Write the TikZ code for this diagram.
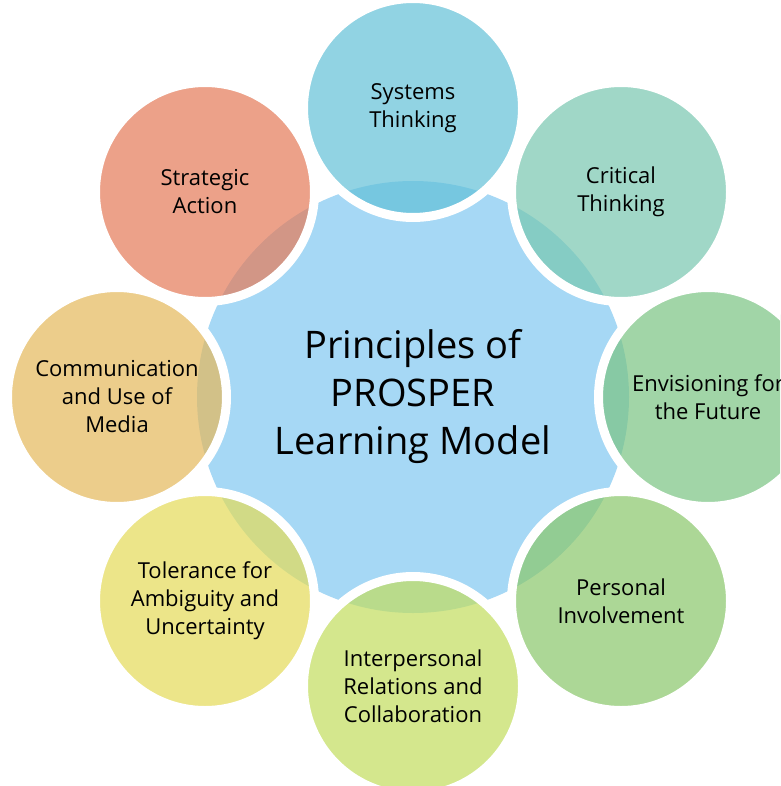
\documentclass[tikz,border=0pt]{standalone}
\usepackage{fontspec}
\setmainfont{Open Sans}
\usetikzlibrary{positioning}

\definecolor{hubblue}{RGB}{166,216,245}
\definecolor{sysblue}{RGB}{99,193,216}
\definecolor{critteal}{RGB}{120,199,176}
\definecolor{envgreen}{RGB}{122,196,131}
\definecolor{persgreen}{RGB}{138,199,106}
\definecolor{interlime}{RGB}{194,221,94}
\definecolor{tolyellow}{RGB}{228,219,88}
\definecolor{commorange}{RGB}{229,184,91}
\definecolor{stratred}{RGB}{229,122,88}

\begin{document}
\begin{tikzpicture}[x=1pt,y=-1pt]

\tikzset{petal/.style={circle, minimum size=219pt, inner sep=0pt, draw=white, line width=9pt,
    fill opacity=.7, text opacity=1, align=center, font=\fontsize{22}{28}\selectfont}}

\clip (0,0) rectangle (780,786);
\fill[white] (0,0) rectangle (780,786);

% hub in the middle
\node[circle, fill=hubblue, minimum size=432pt, align=center,
      font=\fontsize{38}{48}\selectfont] (hub) at (413,397)
      {Principles of\\PROSPER\\Learning Model};

% the eight principles round it
\node[petal, fill=sysblue] (systems) at (413,108) {Systems\\Thinking};
\node[petal, fill=critteal] (critical) at (621,192) {Critical\\Thinking};
\node[petal, fill=envgreen] (envision) at (708,397) {Envisioning for\\the Future};
\node[petal, fill=persgreen] (personal) at (621,601) {Personal\\Involvement};
\node[petal, fill=interlime] (interpers) at (413,686) {Interpersonal\\Relations and\\Collaboration};
\node[petal, fill=tolyellow] (tolerance) at (205,601) {Tolerance for\\Ambiguity and\\Uncertainty};
\node[petal, fill=commorange] (commun) at (117,397) {Communication\\and Use of\\Media};
\node[petal, fill=stratred] (strategic) at (205,192) {Strategic\\Action};

\end{tikzpicture}
\end{document}
